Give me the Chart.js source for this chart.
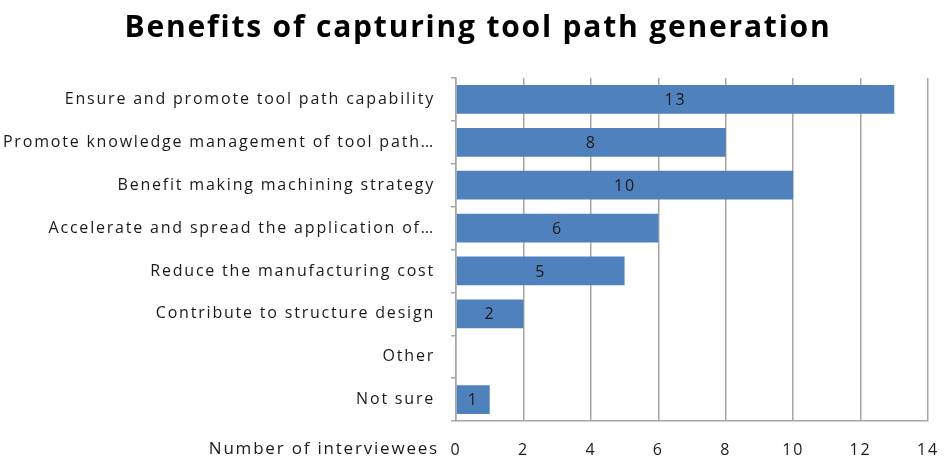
<!DOCTYPE html>
<html>
<head>
<meta charset="utf-8">
<script src="https://cdn.jsdelivr.net/npm/chart.js@4"></script>
<style>
  html, body { margin: 0; padding: 0; background: #fff; }
  #wrap { width: 944px; height: 460px; }
</style>
</head>
<body>
<div id="wrap"><canvas id="chart"></canvas></div>
<script>
const categories = [
  "Ensure and promote tool path capability",
  "Promote knowledge management of tool path\u2026",
  "Benefit making machining strategy",
  "Accelerate and spread the application of\u2026",
  "Reduce the manufacturing cost",
  "Contribute to structure design",
  "Other",
  "Not sure"
];
const interviewees = [13, 8, 10, 6, 5, 2, null, 1];
const xTicks = [0, 2, 4, 6, 8, 10, 12, 14];

const labelFont = "'Open Sans'";

// wide spacing like the original spreadsheet rendering
const spacing = {
  id: "spacing",
  afterLayout(chart) {
    // let the long category labels use the full left margin
    chart.scales.y.left = 0;
  },
  beforeDraw(chart) { chart.ctx.letterSpacing = "1.8px"; },
  afterDraw(chart) { chart.ctx.letterSpacing = "0px"; }
};

// writes the value in the middle of each bar
const barValues = {
  id: "barValues",
  afterDatasetsDraw(chart) {
    const ctx = chart.ctx;
    const meta = chart.getDatasetMeta(0);
    ctx.save();
    ctx.font = "16px " + labelFont;
    ctx.fillStyle = "#1a1a1a";
    ctx.textAlign = "center";
    ctx.textBaseline = "middle";
    meta.data.forEach((bar, i) => {
      const v = interviewees[i];
      if (v == null) return;
      ctx.fillText(String(v), (bar.x + bar.base) / 2, bar.y + 1);
    });
    ctx.restore();
  }
};

// axis caption sitting left of the "0" tick
const axisCaption = {
  id: "axisCaption",
  afterDraw(chart) {
    const ctx = chart.ctx;
    const x = chart.scales.x;
    ctx.save();
    ctx.letterSpacing = "1.8px";
    ctx.font = "17px " + labelFont;
    ctx.fillStyle = "#1a1a1a";
    ctx.textAlign = "right";
    ctx.textBaseline = "middle";
    ctx.fillText("Number of interviewees", x.left - 17, 449);
    ctx.restore();
  }
};

new Chart(document.getElementById("chart"), {
  type: "bar",
  data: {
    labels: categories,
    datasets: [{
      label: "Number of interviewees",
      data: interviewees,
      backgroundColor: "#4f81bd",
      borderWidth: 0,
      barPercentage: 0.67,
      categoryPercentage: 1
    }]
  },
  options: {
    indexAxis: "y",
    responsive: true,
    maintainAspectRatio: false,
    animation: false,
    layout: { padding: { left: 12, right: 0, top: 0, bottom: 0 } },
    plugins: {
      legend: { display: false },
      tooltip: { enabled: false },
      title: {
        display: true,
        text: "Benefits of capturing tool path generation",
        color: "#000",
        font: { family: labelFont, size: 30, weight: "bold", lineHeight: 1.2 },
        padding: { top: 10, bottom: 32 }
      }
    },
    scales: {
      x: {
        min: 0,
        max: 14,
        afterBuildTicks(scale) {
          scale.ticks = xTicks.map(v => ({ value: v }));
        },
        afterFit(scale) {
          scale.height = 39;
          scale.paddingLeft = 0;
          scale.paddingRight = 16;
        },
        grid: { color: "#a6a6a6", lineWidth: 1.5, drawTicks: false },
        border: { color: "#a6a6a6", width: 1.5 },
        ticks: {
          padding: 20,
          color: "#1a1a1a",
          font: { family: labelFont, size: 16 }
        }
      },
      y: {
        afterFit(scale) { scale.width = 444; },
        grid: { drawOnChartArea: false, color: "#a6a6a6", tickLength: 5, lineWidth: 1.5 },
        border: { color: "#a6a6a6", width: 1.5 },
        ticks: {
          padding: 16,
          color: "#1a1a1a",
          autoSkip: false,
          font: { family: labelFont, size: 16 }
        }
      }
    }
  },
  plugins: [spacing, barValues, axisCaption]
});
</script>
</body>
</html>
